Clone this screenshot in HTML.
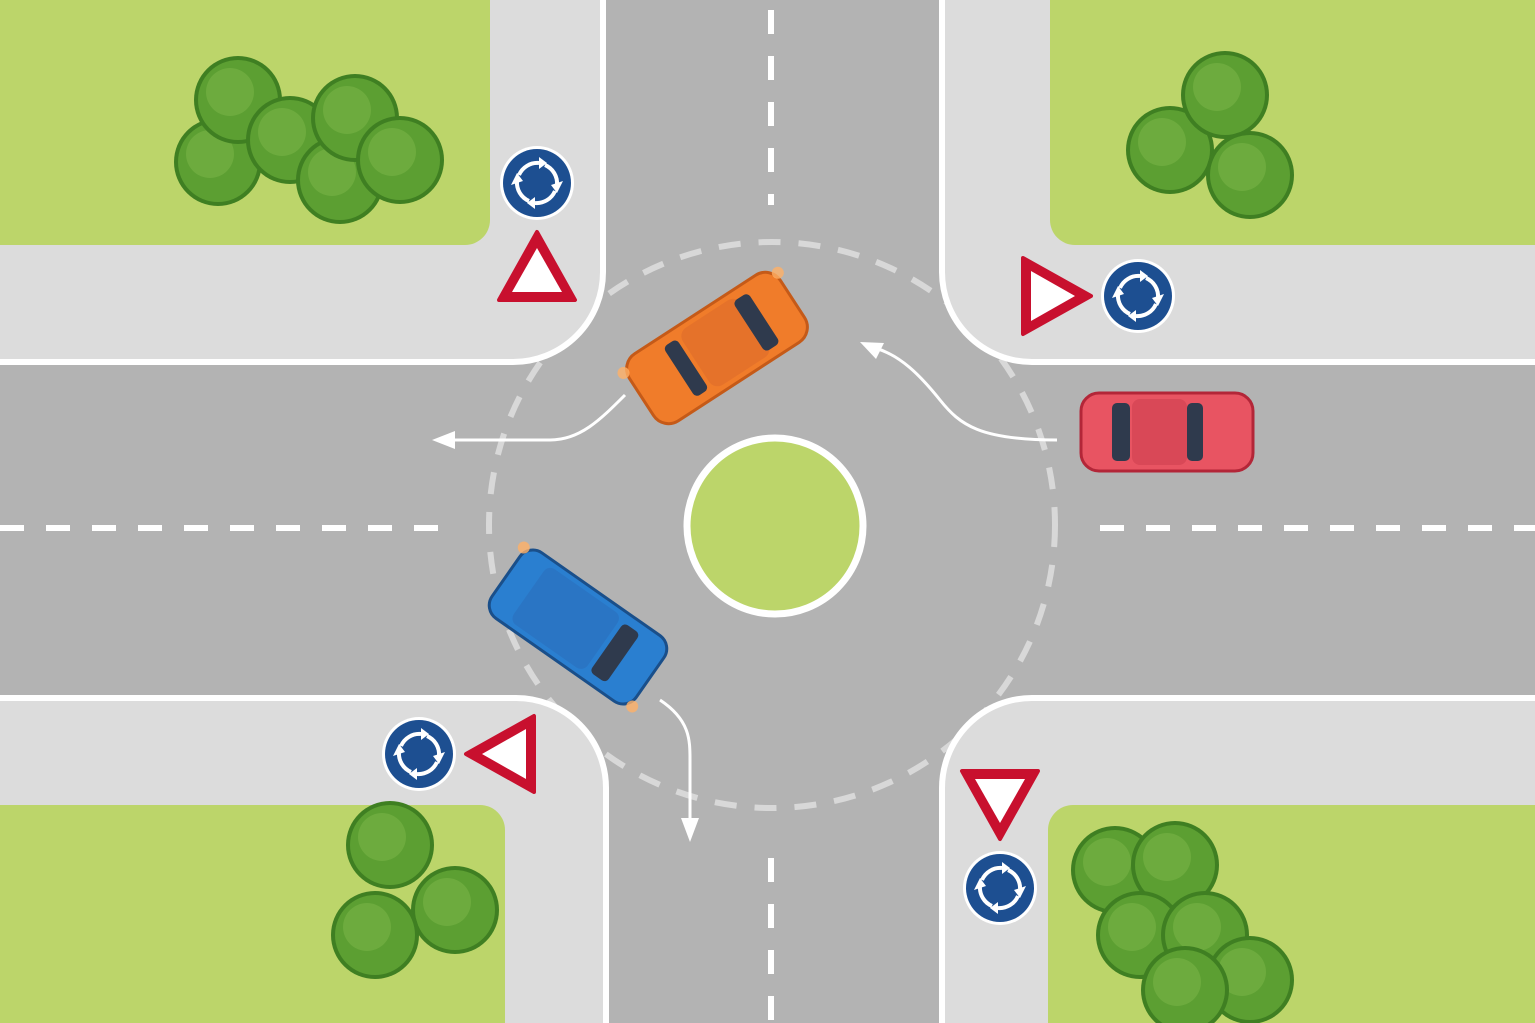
<!DOCTYPE html>
<html><head><meta charset="utf-8"><style>html,body{margin:0;padding:0;overflow:hidden}svg{display:block}</style></head><body>
<svg width="1535" height="1023" viewBox="0 0 1535 1023" xmlns="http://www.w3.org/2000/svg">
<defs>
<g id="tree">
<circle r="44" fill="#3f7f22"/><circle r="40" fill="#5c9f32"/><circle cx="-8" cy="-8" r="24" fill="#78b446" opacity="0.6"/>
</g>
<g id="rsign">
<circle r="37" fill="#fff"/><circle r="34" fill="#1d4f91"/>
<g fill="none" stroke="#fff" stroke-width="4">
<path d="M-18,-8 A20,20 0 0 1 2,-20"/><path d="M18,8 A20,20 0 0 1 -2,20"/><path d="M8,-18 A20,20 0 0 1 20,2"/><path d="M-8,18 A20,20 0 0 1 -20,-2"/>
</g>
<g fill="#fff"><path d="M2,-26 L10,-20 L2,-14Z"/><path d="M-2,26 L-10,20 L-2,14Z"/><path d="M26,-2 L20,10 L14,2Z"/><path d="M-26,2 L-20,-10 L-14,-2Z"/></g>
</g>
<g id="tri">
<path d="M0,-36 L38,32 L-38,32Z" fill="#c8102e" stroke="#c8102e" stroke-width="4" stroke-linejoin="round"/>
<path d="M0,-20 L25,24 L-25,24Z" fill="#fff"/>
</g>
</defs>
<rect width="1535" height="1023" fill="#b3b3b3"/>
<circle cx="772" cy="525" r="283" fill="none" stroke="#d8d8d8" stroke-width="6" stroke-dasharray="22,18"/>
<!-- sidewalks -->
<g fill="#dcdcdc" stroke="#fff" stroke-width="6">
<path d="M-5,-5 H603 V272 A90,90 0 0 1 513,362 H-5 Z"/>
<path d="M1540,-5 H942 V272 A90,90 0 0 0 1032,362 H1540 Z"/>
<path d="M-5,1030 H606 V788 A90,90 0 0 0 516,698 H-5 Z"/>
<path d="M1540,1030 H942 V788 A90,90 0 0 1 1032,698 H1540 Z"/>
</g>
<!-- grass -->
<g fill="#bcd56a">
<path d="M0,0 H490 V220 A25,25 0 0 1 465,245 H0Z"/>
<path d="M1535,0 H1050 V220 A25,25 0 0 0 1075,245 H1535Z"/>
<path d="M0,1023 H505 V830 A25,25 0 0 0 480,805 H0Z"/>
<path d="M1535,1023 H1048 V830 A25,25 0 0 1 1073,805 H1535Z"/>
</g>
<!-- lane lines -->
<g stroke="#fff" stroke-width="6" stroke-dasharray="24,22">
<line x1="771" y1="10" x2="771" y2="205"/>
<line x1="771" y1="858" x2="771" y2="1023"/>
<line x1="0" y1="528" x2="440" y2="528"/>
<line x1="1100" y1="528" x2="1535" y2="528"/>
</g>
<circle cx="775" cy="526" r="88" fill="#bcd56a" stroke="#fff" stroke-width="7"/>
<!-- arrows -->
<g fill="none" stroke="#fff" stroke-width="3">
<path d="M625,395 C600,420 580,440 550,440 H450"/>
<path d="M1057,440 C980,440 960,425 940,400 C920,375 900,355 875,348"/>
<path d="M660,700 C690,720 690,740 690,760 V820"/>
</g>
<g fill="#fff">
<path d="M432,440 L455,431 L455,449Z"/>
<path d="M860,342 L884,343 L876,359Z"/>
<path d="M690,842 L681,818 L699,818Z"/>
</g>
<!-- cars -->
<g transform="translate(717,348) rotate(-33)">
<rect x="-90" y="-40" width="180" height="80" rx="18" fill="#f07c2a" stroke="#c55a18" stroke-width="3"/>
<rect x="-25" y="-34" width="70" height="68" rx="10" fill="#e5722a"/>
<rect x="38" y="-30" width="18" height="60" rx="5" fill="#2f3a4d"/>
<rect x="-45" y="-30" width="16" height="60" rx="5" fill="#2f3a4d"/>
<circle cx="-92" cy="-30" r="6" fill="#ffb066" opacity="0.8"/><circle cx="92" cy="-30" r="6" fill="#ffb066" opacity="0.8"/>
</g>
<g transform="translate(1167,432)">
<rect x="-86" y="-39" width="172" height="78" rx="18" fill="#e85462" stroke="#b32638" stroke-width="3"/>
<rect x="-35" y="-33" width="55" height="66" rx="8" fill="#d94857"/>
<rect x="-55" y="-29" width="18" height="58" rx="5" fill="#2f3a4d"/>
<rect x="20" y="-29" width="16" height="58" rx="5" fill="#2f3a4d"/>
</g>
<g transform="translate(578,627) rotate(35)">
<rect x="-88" y="-40" width="176" height="80" rx="16" fill="#2a7fd0" stroke="#1a4f8a" stroke-width="3"/>
<rect x="-60" y="-34" width="90" height="68" rx="8" fill="#2a75c4"/>
<rect x="35" y="-30" width="20" height="60" rx="5" fill="#2f3a4d"/>
<circle cx="-90" cy="-34" r="6" fill="#ffb066" opacity="0.8"/><circle cx="90" cy="34" r="6" fill="#ffb066" opacity="0.8"/>
</g>
<!-- trees -->
<use href="#tree" x="218" y="162"/><use href="#tree" x="238" y="100"/><use href="#tree" x="290" y="140"/><use href="#tree" x="340" y="180"/><use href="#tree" x="355" y="118"/><use href="#tree" x="400" y="160"/>
<use href="#tree" x="1170" y="150"/><use href="#tree" x="1225" y="95"/><use href="#tree" x="1250" y="175"/>
<use href="#tree" x="390" y="845"/><use href="#tree" x="455" y="910"/><use href="#tree" x="375" y="935"/>
<use href="#tree" x="1115" y="870"/><use href="#tree" x="1175" y="865"/><use href="#tree" x="1140" y="935"/><use href="#tree" x="1205" y="935"/><use href="#tree" x="1250" y="980"/><use href="#tree" x="1185" y="990"/>
<!-- signs -->
<use href="#rsign" x="537" y="183"/><use href="#rsign" x="1138" y="296"/><use href="#rsign" x="419" y="754"/><use href="#rsign" x="1000" y="888"/>
<use href="#tri" transform="translate(537,268)"/>
<use href="#tri" transform="translate(1055,296) rotate(90)"/>
<use href="#tri" transform="translate(502,754) rotate(-90)"/>
<use href="#tri" transform="translate(1000,803) rotate(180)"/>
</svg>
</body></html>
